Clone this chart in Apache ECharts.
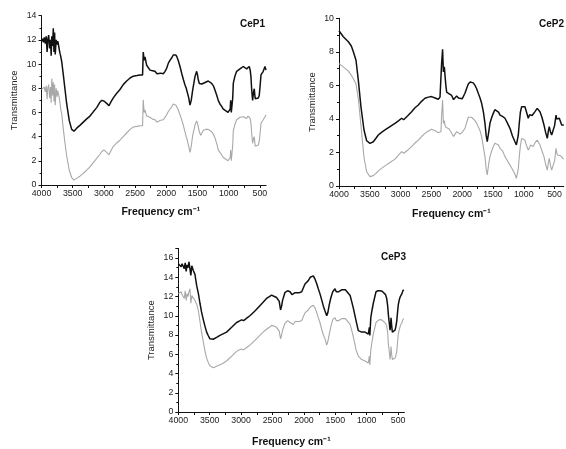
<!DOCTYPE html>
<html>
<head>
<meta charset="utf-8">
<script src="https://cdn.jsdelivr.net/npm/echarts@6/dist/echarts.min.js"></script>
<style>
html,body{margin:0;padding:0;background:#fff;}
#c{width:566px;height:449px;}
</style>
</head>
<body>
<div id="c"></div>
<script>
// ---- tick labels ----
const xLabelValues = [4000,3500,3000,2500,2000,1500,1000,500];
const xTickValues = [4000,3750,3500,3250,3000,2750,2500,2250,2000,1750,1500,1250,1000,750,500];
const panelTitles = ['CeP1','CeP2','CeP3'];

// ---- CeP1 ----
const cep1Wn = [4000,3985,3970,3955,3940,3925,3910,3900,3885,3870,3855,3845,3835,3822,3811,3800,3790,3780,3765,3750,3740,3731,3715,3704,3690,3676,3650,3623,3596,3554,3516,3479,3436,3380,3330,3280,3223,3170,3115,3070,3035,3000,2955,2918,2885,2849,2800,2742,2690,2635,2580,2529,2470,2421,2394,2380,2369,2355,2341,2314,2290,2261,2221,2181,2150,2128,2090,2048,2020,1994,1965,1941,1915,1888,1865,1845,1826,1808,1780,1753,1725,1700,1680,1663,1640,1620,1600,1577,1555,1540,1513,1500,1487,1470,1449,1430,1407,1370,1327,1300,1273,1245,1220,1190,1167,1140,1112,1090,1075,1050,1032,1010,990,975,968,958,947,935,926,900,872,845,819,790,766,740,712,690,670,655,643,630,616,603,590,582,574,555,542,525,510,496,482,465,446,432,418,402];
const cep1Black = [11.9,12.1,11.8,12.2,11.7,12.3,11.0,12.0,12.4,11.3,12.0,10.7,12.3,11.5,12.96,11.0,12.6,10.8,12.0,11.6,11.9,11.7,11.2,10.9,10.6,10.2,9.1,7.9,6.7,5.3,4.6,4.45,4.7,4.95,5.2,5.45,5.7,6.05,6.4,6.8,7.0,6.95,6.75,6.55,6.9,7.2,7.55,7.9,8.3,8.6,8.85,9.0,9.05,9.1,9.0,9.1,11.0,10.3,10.6,9.9,9.75,9.5,9.45,9.4,9.2,9.3,9.25,9.2,9.4,9.65,10.1,10.3,10.5,10.75,10.8,10.75,10.55,10.3,9.8,9.24,8.7,8.27,8.0,7.85,7.2,6.6,7.0,7.85,8.5,8.96,9.4,9.1,8.7,8.4,8.27,8.35,8.4,8.5,8.6,8.5,8.4,8.2,7.85,7.4,7.0,6.7,6.5,6.3,6.2,6.15,6.1,6.0,5.93,6.3,7.0,6.0,5.93,7.2,8.4,9.0,9.4,9.55,9.6,9.7,9.8,9.7,9.6,9.75,9.8,9.5,8.96,7.8,7.0,7.6,7.96,7.5,7.13,7.05,7.05,7.2,7.4,8.2,9.1,9.2,9.4,9.5,9.8,9.5];
const cep1Gray = [7.9,8.0,7.8,8.1,7.7,8.2,7.1,8.0,8.3,7.2,8.1,6.8,8.8,7.4,8.5,6.9,8.3,6.6,8.0,7.3,7.8,7.6,7.2,6.8,6.2,5.9,4.6,3.45,2.4,1.2,0.6,0.4,0.55,0.75,0.96,1.2,1.5,1.85,2.2,2.5,2.75,2.9,2.7,2.5,2.85,3.2,3.45,3.7,4.0,4.3,4.6,4.8,4.85,4.9,4.85,4.9,7.05,6.0,6.2,5.7,5.65,5.6,5.45,5.4,5.2,5.3,5.35,5.4,5.5,5.8,6.1,6.2,6.45,6.7,6.8,6.6,6.5,6.2,5.8,5.4,4.9,4.4,4.0,3.7,3.2,2.7,3.2,4.1,4.6,4.96,5.3,5.1,4.8,4.4,4.1,4.3,4.5,4.6,4.6,4.5,4.4,4.2,3.9,3.4,2.9,2.7,2.5,2.3,2.2,2.15,2.1,2.0,1.96,2.3,2.9,2.0,1.96,3.3,4.5,5.0,5.4,5.5,5.6,5.6,5.65,5.6,5.5,5.7,5.8,5.5,5.1,4.2,3.45,3.8,4.0,3.6,3.2,3.2,3.2,3.3,3.6,4.3,5.1,5.2,5.4,5.5,5.65,5.8];

// ---- CeP2 ----
const cep2Wn = [4000,3930,3848,3800,3767,3724,3686,3643,3594,3551,3497,3443,3400,3362,3310,3253,3172,3091,3030,2983,2950,2929,2880,2821,2770,2712,2660,2604,2550,2496,2440,2388,2360,2345,2334,2318,2305,2290,2279,2265,2252,2210,2171,2140,2117,2090,2060,2036,2000,1955,1925,1901,1870,1846,1820,1792,1765,1739,1710,1684,1655,1630,1610,1593,1570,1549,1520,1495,1470,1440,1410,1386,1345,1305,1265,1224,1185,1143,1120,1106,1090,1073,1055,1034,1005,981,955,927,905,888,865,846,815,781,760,737,705,672,645,618,600,586,565,547,521,500,476,465,455,440,423,400,385,365,350];
const cep2Black = [9.26,8.9,8.6,8.35,8.0,7.5,6.3,4.7,3.34,2.7,2.54,2.64,2.85,3.04,3.2,3.34,3.54,3.74,3.9,4.04,3.95,3.94,4.2,4.43,4.65,4.83,5.05,5.23,5.3,5.33,5.25,5.17,5.3,5.37,7.3,8.15,6.8,7.1,7.0,6.0,5.6,5.5,5.4,5.15,5.1,5.37,5.25,5.17,5.2,5.53,5.85,6.08,6.2,6.22,6.15,6.0,5.8,5.53,5.25,4.93,4.4,3.74,3.0,2.64,3.2,3.74,4.1,4.33,4.55,4.63,4.4,4.23,4.15,4.04,3.75,3.44,3.0,2.64,2.45,2.35,3.0,3.74,4.4,4.73,4.75,4.73,4.4,4.04,4.25,4.33,4.2,4.17,4.45,4.63,4.55,4.43,4.1,3.64,3.2,2.84,3.3,3.54,3.2,3.04,3.04,3.6,4.23,4.0,3.94,4.05,4.04,3.8,3.64,3.6,3.64];
const cep2Gray = [7.3,7.1,6.85,6.6,6.4,6.1,5.2,3.6,1.7,0.85,0.56,0.62,0.75,0.9,1.05,1.2,1.4,1.6,1.85,2.05,1.95,1.9,2.15,2.35,2.55,2.74,2.95,3.14,3.28,3.38,3.3,3.18,3.1,3.24,4.2,5.13,3.74,3.9,3.64,3.5,3.5,3.4,3.14,2.95,2.94,3.24,3.15,3.1,3.2,3.44,3.8,4.1,4.17,4.1,4.04,3.9,3.75,3.64,3.3,2.94,2.3,1.75,1.0,0.66,1.3,1.75,2.1,2.35,2.55,2.64,2.45,2.25,2.1,1.75,1.5,1.25,1.0,0.7,0.46,0.36,1.0,1.75,2.4,2.84,2.8,2.74,2.4,2.15,2.3,2.45,2.4,2.35,2.6,2.74,2.6,2.45,2.1,1.75,1.3,0.95,1.4,1.65,1.2,0.95,0.85,1.5,2.25,2.0,1.85,1.95,1.95,1.8,1.7,1.65,1.6];

// ---- CeP3 ----
const cep3Wn = [4000,3985,3970,3955,3940,3920,3905,3890,3875,3860,3845,3830,3814,3800,3785,3761,3735,3708,3680,3655,3630,3602,3575,3549,3520,3496,3470,3443,3390,3337,3280,3231,3150,3072,3030,2993,2960,2940,2900,2860,2780,2701,2650,2595,2550,2515,2470,2436,2410,2393,2372,2355,2340,2303,2260,2221,2190,2169,2140,2115,2070,2035,2010,1983,1955,1930,1900,1876,1850,1823,1800,1771,1745,1717,1690,1664,1637,1620,1596,1570,1541,1505,1485,1468,1445,1425,1400,1373,1340,1309,1264,1240,1213,1190,1170,1150,1134,1105,1080,1050,1027,1000,975,958,950,935,915,895,870,852,820,788,755,724,700,682,666,656,640,629,620,613,603,592,570,549,535,521,510,497,480,465,450,439,424,410];
const cep3Black = [15.4,15.2,15.5,15.1,15.4,15.3,14.9,15.5,14.6,15.3,15.0,15.6,15.8,14.2,15.2,14.7,14.3,13.15,12.3,11.3,10.4,9.6,8.9,8.3,7.9,7.6,7.55,7.56,7.75,7.97,8.15,8.3,8.8,9.3,9.45,9.57,9.5,9.5,9.8,10.0,10.5,11.05,11.4,11.8,12.0,12.15,12.0,11.9,11.7,11.5,10.6,11.0,11.6,12.4,12.6,12.5,12.2,12.1,12.4,12.5,12.4,12.5,12.6,13.3,13.5,13.65,14.0,14.2,14.15,13.8,13.4,12.8,12.3,11.65,11.0,10.5,10.0,10.3,11.15,11.9,12.5,12.8,12.5,12.3,12.5,12.6,12.7,12.8,12.7,12.5,12.1,11.5,10.8,10.1,9.5,8.9,8.45,8.3,8.3,8.35,8.3,8.2,8.1,8.8,7.95,9.8,10.6,11.3,12.0,12.5,12.6,12.6,12.55,12.5,12.2,11.8,11.0,10.15,9.2,8.5,9.0,9.8,9.0,8.3,8.4,8.5,8.9,9.5,10.3,11.15,11.7,12.0,12.2,12.3,12.6,12.7];
const cep3Gray = [12.3,12.4,12.1,12.5,12.2,12.4,11.8,12.6,11.6,12.3,12.0,12.5,12.8,11.3,12.1,11.9,11.6,11.2,10.5,9.4,8.3,7.3,6.3,5.6,5.1,4.8,4.65,4.6,4.75,4.9,5.1,5.3,5.8,6.3,6.45,6.55,6.45,6.45,6.75,6.95,7.45,7.97,8.3,8.6,8.8,9.0,8.9,8.8,8.6,8.4,7.6,8.0,8.5,9.2,9.5,9.3,9.1,9.1,9.4,9.6,9.4,9.5,9.6,10.3,10.4,10.6,10.9,11.1,11.1,10.8,10.4,9.8,9.3,8.6,8.0,7.6,6.95,7.3,8.1,8.9,9.6,9.8,9.5,9.3,9.5,9.6,9.7,9.8,9.7,9.5,9.1,8.5,7.8,7.1,6.45,6.1,5.8,5.6,5.45,5.4,5.3,5.2,5.1,5.8,4.9,6.45,7.3,8.1,8.8,9.3,9.5,9.6,9.55,9.5,9.2,8.95,8.2,7.1,6.2,5.45,6.0,6.8,6.0,5.45,5.5,5.6,5.9,6.3,7.2,8.1,8.6,8.95,9.1,9.3,9.6,9.7];

function pairs(xs, ys){ return xs.map((x,i)=>[x, ys[i]]); }

const FONT = '"Liberation Sans", Arial, sans-serif';
const chart = echarts.init(document.getElementById('c'), null, {renderer:'canvas'});

function xAxisFor(gi, min, namePad, gap){
  return {
    type:'value', gridIndex:gi, inverse:true, min:min, max:4000,
    name:'Frequency cm\u207B\u00B9', nameLocation:'middle', nameGap:gap,
    nameTextStyle:{fontFamily:FONT, fontSize:10.5, fontWeight:'bold', color:'#111', padding:namePad},
    axisLine:{show:true, onZero:false, lineStyle:{color:'#111', width:1}},
    axisTick:{show:true, length:3, lineStyle:{color:'#111'}, customValues:xTickValues},
    axisLabel:{show:true, fontFamily:FONT, fontSize:8.8, color:'#222', margin:4, customValues:xLabelValues,
      formatter:function(v){ return String(v); }},
    splitLine:{show:false}
  };
}
function yAxisFor(gi, max){
  return {
    type:'value', gridIndex:gi, min:0, max:max, interval:2,
    name:'Transmittance', nameLocation:'middle', nameGap:22, nameRotate:90,
    nameTextStyle:{fontFamily:FONT, fontSize:9.5, color:'#222'},
    axisLine:{show:true, lineStyle:{color:'#111', width:1}},
    axisTick:{show:true, length:3, lineStyle:{color:'#111'}},
    minorTick:{show:true, splitNumber:2, length:2, lineStyle:{color:'#111'}},
    axisLabel:{fontFamily:FONT, fontSize:8.8, color:'#222', margin:5,
      formatter:function(v){ return (v % 2 === 0) ? String(v) : ''; }},
    splitLine:{show:false}
  };
}
function lineSeries(xi, data, color, w){
  return {type:'line', xAxisIndex:xi, yAxisIndex:xi, data:data, showSymbol:false, symbol:'none',
    lineStyle:{color:color, width:w}, silent:true, animation:false, z: color==='#111'?3:2};
}
const titleStyle = {fontFamily:FONT, fontSize:10, fontWeight:'bold', color:'#111'};

chart.setOption({
  animation:false,
  backgroundColor:'#fff',
  title:[
    {text:panelTitles[0], left:240, top:19, padding:0, textStyle:titleStyle},
    {text:panelTitles[1], left:539, top:19, padding:0, textStyle:titleStyle},
    {text:panelTitles[2], left:381, top:252, padding:0, textStyle:titleStyle}
  ],
  grid:[
    {left:41.5, top:15.7, width:224.6, height:169.3},
    {left:339, top:18.3, width:224.8, height:167.7},
    {left:178.3, top:248.4, width:226.1, height:169.3}
  ],
  xAxis:[ xAxisFor(0, 400, [0,0,0,14], 22), xAxisFor(1, 350, [0,0,0,0], 23), xAxisFor(2, 400, [0,0,0,0], 25) ],
  yAxis:[ yAxisFor(0, 14), yAxisFor(1, 10), yAxisFor(2, 17) ],
  series:[
    lineSeries(0, pairs(cep1Wn, cep1Gray), '#a8a8a8', 1.1),
    lineSeries(0, pairs(cep1Wn, cep1Black), '#111', 1.5),
    lineSeries(1, pairs(cep2Wn, cep2Gray), '#a8a8a8', 1.1),
    lineSeries(1, pairs(cep2Wn, cep2Black), '#111', 1.5),
    lineSeries(2, pairs(cep3Wn, cep3Gray), '#a8a8a8', 1.1),
    lineSeries(2, pairs(cep3Wn, cep3Black), '#111', 1.5)
  ]
});
</script>
</body>
</html>
